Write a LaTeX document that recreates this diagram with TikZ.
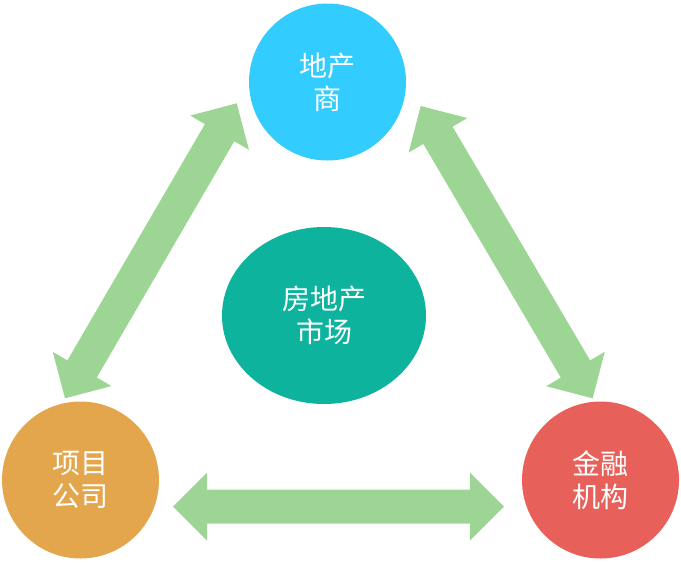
\documentclass[tikz,border=0pt]{standalone}
\usepackage{fontspec}
\newfontfamily\cjk{Noto Sans CJK SC}
\usetikzlibrary{calc,shapes.geometric}
\definecolor{cTop}{HTML}{33CCFF}
\definecolor{cLeft}{HTML}{E4A64C}
\definecolor{cRight}{HTML}{E8605A}
\definecolor{cMid}{HTML}{0DB39C}
\definecolor{cArr}{HTML}{9DD694}
\tikzset{
  labelfont/.style={align=center, text=white, font=\cjk\fontsize{28}{33}\selectfont},
  ball/.style={circle, minimum size=157pt, inner sep=0pt, labelfont},
  arrfill/.style={fill=cArr}
}
\newcommand\dblarrow[2]{%
  \fill[arrfill] (#1)
    -- ($(#1)!34pt!(#2)!34pt!90:(#2)$)
    -- ($(#1)!34pt!(#2)!17pt!90:(#2)$)
    -- ($(#2)!34pt!(#1)!17pt!-90:(#1)$)
    -- ($(#2)!34pt!(#1)!34pt!-90:(#1)$)
    -- (#2)
    -- ($(#2)!34pt!(#1)!34pt!90:(#1)$)
    -- ($(#2)!34pt!(#1)!17pt!90:(#1)$)
    -- ($(#1)!34pt!(#2)!17pt!-90:(#2)$)
    -- ($(#1)!34pt!(#2)!34pt!-90:(#2)$)
    -- cycle;}
\begin{document}
\begin{tikzpicture}[x=1pt,y=-1pt]
\useasboundingbox (0,0) rectangle (681,563);
\node[ball, fill=cTop] (top) at (327.5,82) {地产\\商};
\node[ball, fill=cLeft] (left) at (80.5,480) {项目\\公司};
\node[ball, fill=cRight] (right) at (600.5,480) {金融\\机构};
\node[ellipse, fill=cMid, minimum width=204pt, minimum height=177pt, inner sep=0pt,
  labelfont] (mid) at (324,315.5) {房地产\\市场};
\coordinate (la) at (236.7,103.3);
\coordinate (lb) at (65,398.3);
\coordinate (ra) at (420.7,106);
\coordinate (rb) at (592.7,398.3);
\coordinate (ba) at (173,506.7);
\coordinate (bb) at (504,506.7);
\dblarrow{la}{lb}
\dblarrow{ra}{rb}
\dblarrow{ba}{bb}
\end{tikzpicture}
\end{document}
